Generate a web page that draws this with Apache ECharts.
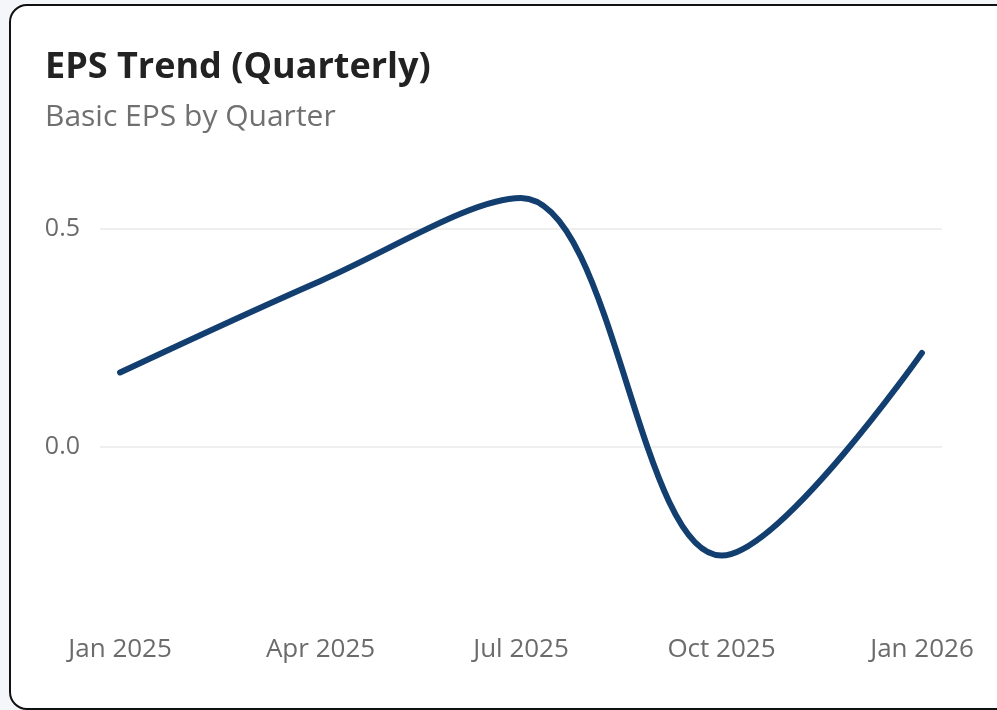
<!DOCTYPE html>
<html>
<head>
<meta charset="utf-8">
<title>EPS Trend</title>
<script src="https://cdn.jsdelivr.net/npm/echarts@6/dist/echarts.min.js"></script>
<style>
  html, body { margin: 0; padding: 0; background: #f5f6fa; }
  #card {
    position: absolute; left: 9px; top: 4px; width: 1010px; height: 702px;
    background: #fff; border: 2px solid #111; border-radius: 18px;
  }
  #main { position: absolute; left: 0; top: 0; width: 997px; height: 710px; }
</style>
</head>
<body>
<div id="card"></div>
<div id="main"></div>
<script>
// 季度标签
var quarters = ['Jan 2025', 'Apr 2025', 'Jul 2025', 'Oct 2025', 'Jan 2026'];
// 基本每股收益
var epsValues = [0.17, 0.38, 0.57, -0.25, 0.215];
// y轴刻度
var yTicks = [0, 0.5];

var myChart = echarts.init(document.getElementById('main'), null, { renderer: 'canvas' });

var seriesData = [];
for (var i = 0; i < epsValues.length; i++) {
    seriesData.push([i, epsValues[i]]);
}
var xTicks = [];
for (var j = 0; j < quarters.length; j++) {
    xTicks.push(j);
}

var font = '"Open Sans", "Noto Sans", sans-serif';

var option = {
    backgroundColor: 'transparent',
    animation: false,
    title: {
        text: 'EPS Trend (Quarterly)',
        subtext: 'Basic EPS by Quarter',
        left: 40,
        top: 45,
        itemGap: 16,
        textStyle: {
            color: '#222',
            fontSize: 36,
            fontWeight: 'bold',
            fontFamily: font
        },
        subtextStyle: {
            color: '#707070',
            fontSize: 30,
            fontFamily: font
        }
    },
    grid: {
        left: 100,
        right: 55,
        top: 185,
        bottom: 89,
        containLabel: false,
        outerBoundsMode: 'none'
    },
    xAxis: {
        type: 'value',
        min: -0.1,
        max: 4.1,
        axisLine: { show: false },
        axisTick: { show: false, customValues: xTicks },
        splitLine: { show: false },
        axisLabel: {
            customValues: xTicks,
            margin: 16,
            color: '#6b6b6b',
            fontSize: 26,
            fontFamily: font,
            formatter: function (v) { return quarters[Math.round(v)] || ''; }
        }
    },
    yAxis: {
        type: 'value',
        min: -0.4,
        max: 0.6,
        axisLine: { show: false },
        axisTick: { show: false, customValues: yTicks },
        splitLine: { show: true, lineStyle: { color: '#efefef', width: 2 } },
        axisLabel: {
            customValues: yTicks,
            margin: 20,
            color: '#6b6b6b',
            fontSize: 25,
            fontFamily: font,
            formatter: function (v) { return v.toFixed(1); }
        }
    },
    series: [{
        name: 'Basic EPS',
        type: 'line',
        data: seriesData,
        smooth: 0.35,
        showSymbol: false,
        lineStyle: { color: '#123f6f', width: 6, cap: 'round' },
        itemStyle: { color: '#123f6f' }
    }]
};

myChart.setOption(option);
</script>
</body>
</html>
